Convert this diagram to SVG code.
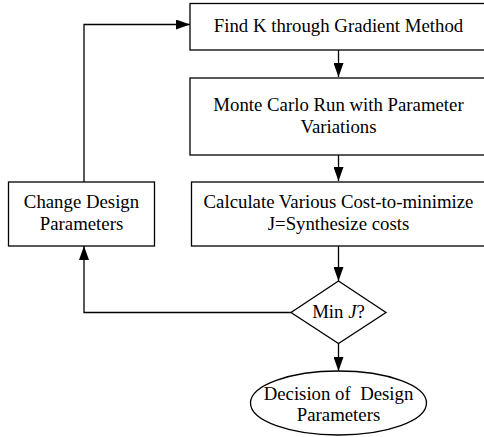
<svg xmlns="http://www.w3.org/2000/svg" width="484" height="437" viewBox="0 0 484 437">
<defs>
<style>
.box{fill:#fff;stroke:#000;stroke-width:1.3}
.t{font-family:'Liberation Serif', 'Times New Roman', 'DejaVu Serif', serif;font-size:18.8px;fill:#000;text-anchor:middle}
.c{fill:none;stroke:#000;stroke-width:1.3}
</style>
<marker id="ah" markerWidth="14" markerHeight="10" refX="14" refY="5" orient="auto" markerUnits="userSpaceOnUse">
<path d="M0,0 L14,5 L0,10 Z" fill="#000"/>
</marker>
</defs>
<rect width="484" height="437" fill="#fff"/>
<g id="connectors">
<path class="c" d="M338.5,50 V77" marker-end="url(#ah)"/>
<path class="c" d="M338.5,155 V181" marker-end="url(#ah)"/>
<path class="c" d="M338.5,246 V281" marker-end="url(#ah)"/>
<path class="c" d="M338.5,343 V371" marker-end="url(#ah)"/>
<path class="c" d="M84,182 V24.5 H190" marker-end="url(#ah)"/>
<path class="c" d="M291,312.5 H84 V246" marker-end="url(#ah)"/>
</g>
<g id="find-k">
<rect class="box" x="190" y="3.5" width="300" height="46.5"/>
<text class="t" x="338.5" y="32">Find K through Gradient Method</text>
</g>
<g id="monte-carlo">
<rect class="box" x="190" y="78" width="300" height="77"/>
<text class="t" x="338.5" y="111">Monte Carlo Run with Parameter</text>
<text class="t" x="338.5" y="133">Variations</text>
</g>
<g id="calculate">
<rect class="box" x="191.5" y="182" width="300" height="64"/>
<text class="t" x="338.5" y="208">Calculate Various Cost-to-minimize</text>
<text class="t" x="338.5" y="230">J=Synthesize costs</text>
</g>
<g id="change">
<rect class="box" x="8.5" y="182" width="146" height="64"/>
<text class="t" x="81.5" y="208">Change Design</text>
<text class="t" x="81.5" y="230">Parameters</text>
</g>
<g id="min-j">
<path class="box" d="M338.5,281 L386,312.5 L338.5,343.5 L291,312.5 Z"/>
<text class="t" x="338.5" y="318">Min <tspan font-style="italic">J</tspan>?</text>
</g>
<g id="decision">
<ellipse class="box" cx="338.5" cy="403" rx="88" ry="32"/>
<text class="t" x="338.5" y="400" xml:space="preserve">Decision of  Design</text>
<text class="t" x="338.5" y="421">Parameters</text>
</g>
</svg>
